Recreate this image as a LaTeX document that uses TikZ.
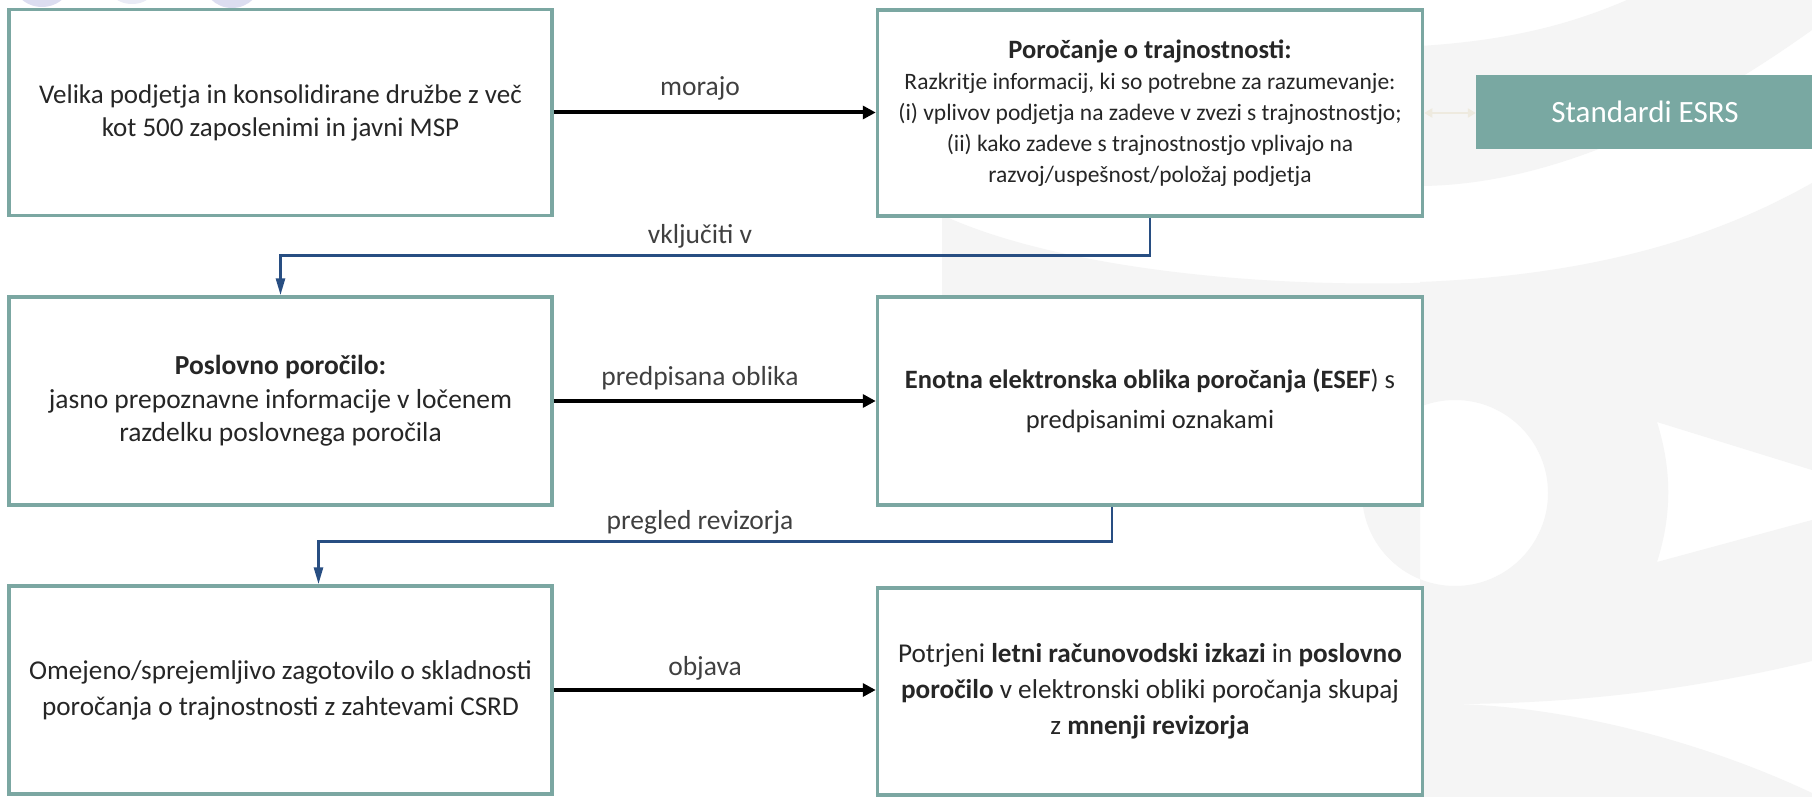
\documentclass[tikz,border=0pt]{standalone}
\usepackage{fontspec}
\setmainfont{Carlito}
\usetikzlibrary{arrows.meta}
\definecolor{boxline}{HTML}{7BA7A2}
\definecolor{esrs}{HTML}{79A8A2}
\definecolor{conn}{HTML}{284E82}
\definecolor{txt}{HTML}{262626}
\definecolor{lbl}{HTML}{404040}
\definecolor{beige}{HTML}{EEEADF}
\definecolor{wm}{HTML}{F5F5F5}
\definecolor{lav}{HTML}{DCDDF0}
\begin{document}
\begin{tikzpicture}[x=1pt,y=-1pt,
 box/.style={draw=boxline, line width=3.5pt, fill=white, minimum width=543pt, minimum height=206pt, align=center, text=txt, inner sep=0pt},
 flow/.style={line width=4pt, -{Triangle[length=13pt,width=13pt]}, black},
 link/.style={conn, line width=2.8pt, -{Triangle[length=17pt,width=9pt]}},
 lab/.style={text=lbl, font=\fontsize{27.5}{30}\selectfont}]
\useasboundingbox (0,0) rectangle (1812,797);
\fill[white] (0,0) rectangle (1812,797);

% faint watermark
\fill[lav] (42,-24) circle[radius=31];
\fill[lav!60] (132,-26) circle[radius=30];
\fill[lav] (232,-22) circle[radius=30];
\fill[wm] (1420,46) .. controls (1520,40) and (1580,20) .. (1627,0) -- (1812,0) -- (1812,30) .. controls (1700,110) and (1560,185) .. (1420,186) -- cycle;
\fill[wm, even odd rule] (1420,282) .. controls (1600,275) and (1720,235) .. (1812,183) -- (1812,661) .. controls (1650,700) and (1520,705) .. (1420,704) -- cycle
  (1455,493) circle[radius=93]
  (1657,422) .. controls (1672,470) and (1672,515) .. (1657,562) -- (1812,520) -- (1812,470) -- cycle;
\fill[wm] (1420,704) .. controls (1550,700) and (1700,740) .. (1812,793) -- (1812,797) -- (1420,797) -- cycle;
\fill[wm] (942,215) .. controls (1050,265) and (1250,290) .. (1445,282) -- (1445,300) -- (942,300) -- cycle;

\node[box, font=\fontsize{27}{33}\selectfont] (A) at (280.5,112.5) {Velika podjetja in konsolidirane družbe z več\\kot 500 zaposlenimi in javni MSP};
\node[box, minimum width=545pt, font=\fontsize{23.5}{31}\selectfont] (B) at (1150,113) {{\fontsize{26.5}{31}\selectfont\bfseries Poročanje o trajnostnosti:}\\Razkritje informacij, ki so potrebne za razumevanje:\\(i) vplivov podjetja na zadeve v zvezi s trajnostnostjo;\\(ii) kako zadeve s trajnostnostjo vplivajo na\\razvoj/uspešnost/položaj podjetja};
\node[fill=esrs, text=white, minimum width=338pt, minimum height=74pt, inner sep=0pt, font=\fontsize{31}{34}\selectfont] (S) at (1645,112) {Standardi ESRS};

\node[box, minimum height=208pt, font=\fontsize{27.5}{33.5}\selectfont] (C) at (280.5,401) {{\bfseries Poslovno poročilo:}\\jasno prepoznavne informacije v ločenem\\razdelku poslovnega poročila};
\node[box, minimum width=545pt, minimum height=208pt, font=\fontsize{26.5}{40}\selectfont] (D) at (1150,401) {{\bfseries Enotna elektronska oblika poročanja (ESEF}) s\\predpisanimi oznakami};

\node[box, minimum height=208pt, font=\fontsize{27.2}{36}\selectfont] (E) at (280.5,690) {Omejeno/sprejemljivo zagotovilo o skladnosti\\poročanja o trajnostnosti z zahtevami CSRD};
\node[box, minimum width=545pt, minimum height=207pt, font=\fontsize{27.2}{36}\selectfont] (F) at (1150,691.5) {Potrjeni {\bfseries letni računovodski izkazi} in {\bfseries poslovno}\\{\bfseries poročilo} v elektronski obliki poročanja skupaj\\z {\bfseries mnenji revizorja}};

\draw[flow] (A.east) -- (A.east -| B.west);
\draw[flow] (C.east) -- (C.east -| D.west);
\draw[flow] (E.east) -- (E.east -| F.west);
\draw[beige, line width=2.5pt, {Triangle[length=8pt,width=9pt]}-{Triangle[length=8pt,width=9pt]}] (B.east) -- (B.east -| S.west);

\coordinate (c1) at (C.north);
\draw[link] (B.south) |- ([yshift=40pt]c1) -- (c1);
\coordinate (d1) at ([xshift=-38pt]D.south);
\coordinate (e1) at ([xshift=38pt]E.north);
\draw[link] (d1) |- ([yshift=43pt]e1) -- (e1);

\node[lab] (l1) at (700,88) {morajo};
\node[lab] (l2) at (700,236) {vključiti v};
\node[lab] (l3) at (700,378) {predpisana oblika};
\node[lab] (l4) at (700,522) {pregled revizorja};
\node[lab] (l5) at (705,668) {objava};
\end{tikzpicture}
\end{document}
